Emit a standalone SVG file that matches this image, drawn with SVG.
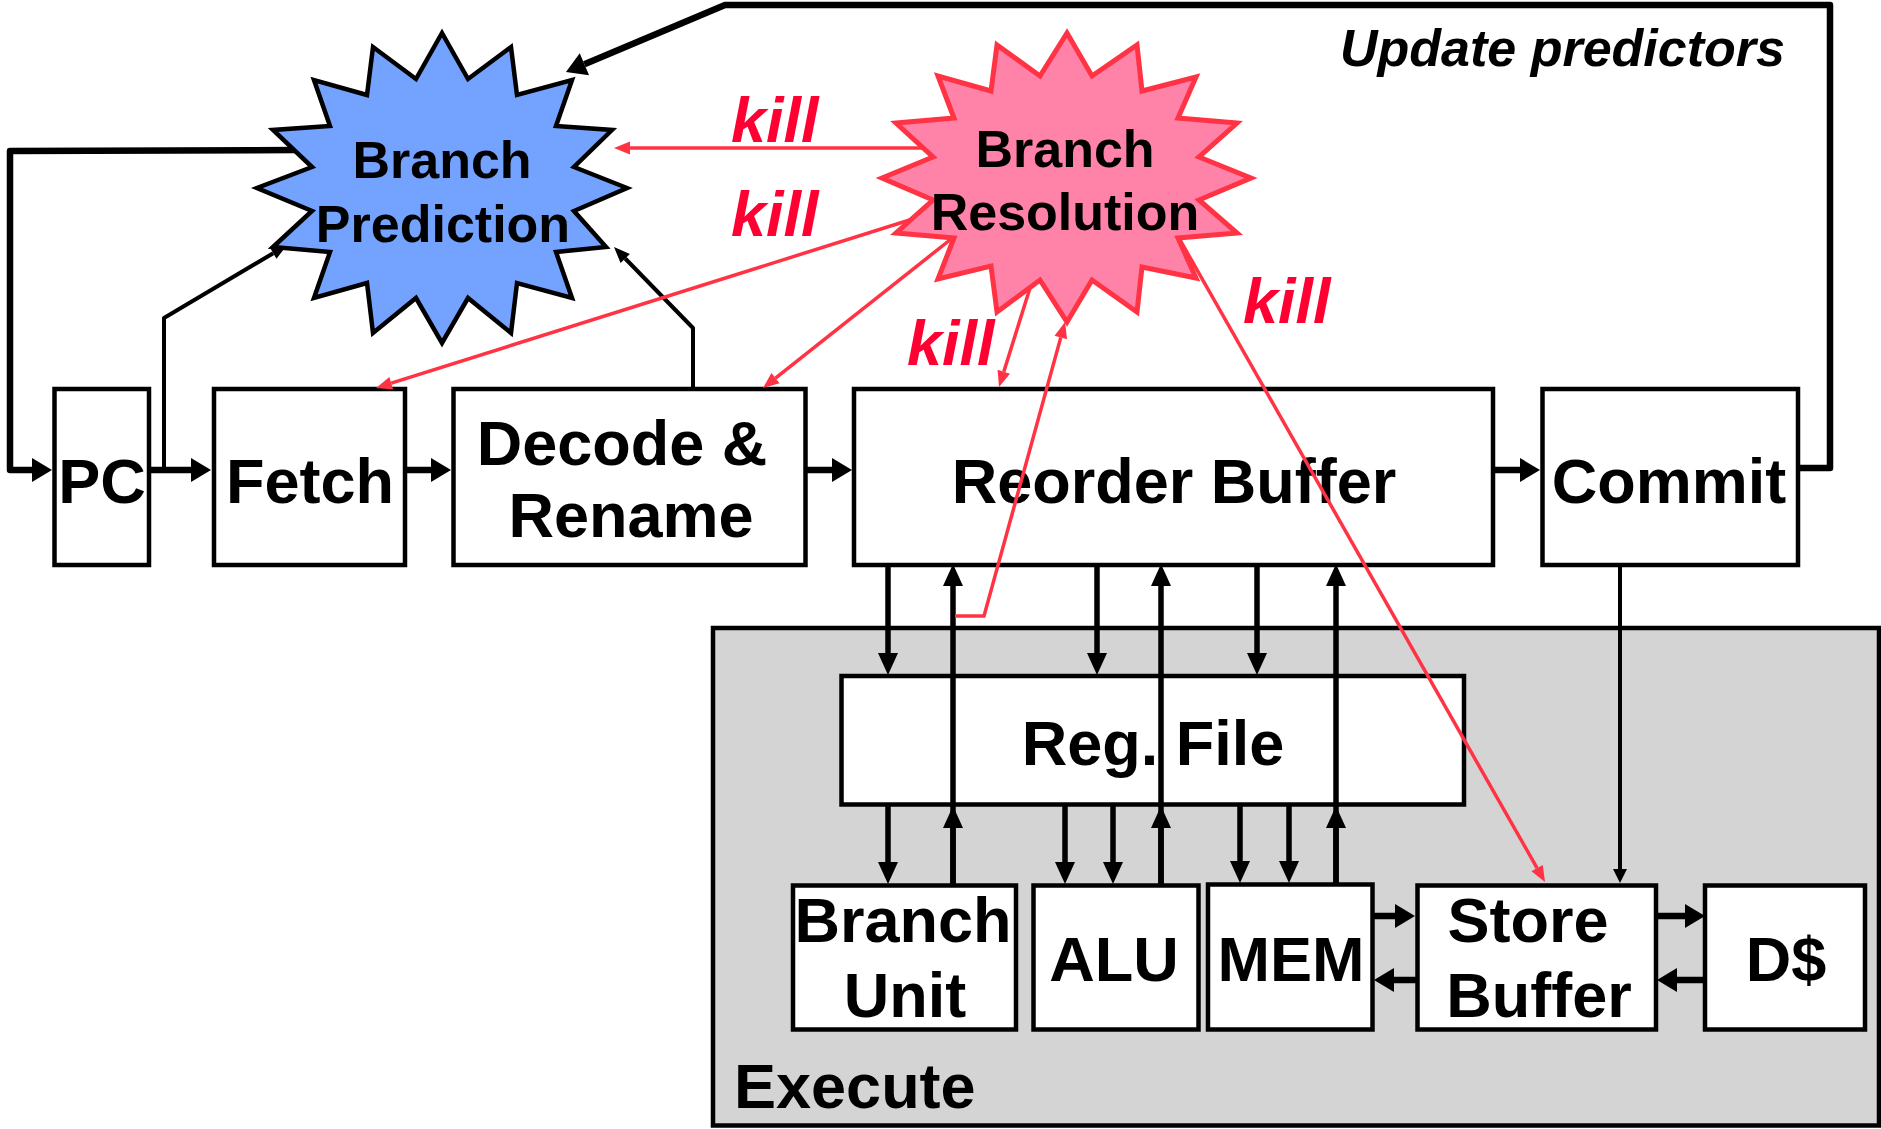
<svg xmlns="http://www.w3.org/2000/svg" width="1881" height="1129" viewBox="0 0 1881 1129">
<style>
.box{fill:#ffffff;stroke:#000;stroke-width:4.5}
.exe{fill:#d4d4d4;stroke:#000;stroke-width:4.5}
.t{font-family:"Liberation Sans",Arial,sans-serif;font-weight:bold;font-size:63px;fill:#000}
.ts{font-family:"Liberation Sans",Arial,sans-serif;font-weight:bold;font-size:52px;fill:#000}
.kill{font-family:"Liberation Sans",Arial,sans-serif;font-weight:bold;font-style:italic;font-size:63px;fill:#ff0033}
.upd{font-family:"Liberation Sans",Arial,sans-serif;font-weight:bold;font-style:italic;font-size:52px;fill:#000}
.thick{fill:none;stroke:#000;stroke-width:6.5;stroke-linejoin:round}
.med{fill:none;stroke:#000;stroke-width:5.5}
.thin{fill:none;stroke:#000;stroke-width:4;stroke-linejoin:round}
.red{fill:none;stroke:#ff3344;stroke-width:3.5;stroke-linejoin:miter}
</style>
<defs>
<marker id="mBig" markerUnits="userSpaceOnUse" markerWidth="20" markerHeight="24" refX="0" refY="12" orient="auto" overflow="visible"><path d="M0,0 L20,12 L0,24 z" fill="#000"/></marker>
<marker id="mMed" markerUnits="userSpaceOnUse" markerWidth="22" markerHeight="20" refX="0" refY="10" orient="auto" overflow="visible"><path d="M0,0 L22,10 L0,20 z" fill="#000"/></marker>
<marker id="mThin" markerUnits="userSpaceOnUse" markerWidth="16" markerHeight="13" refX="0" refY="6.5" orient="auto" overflow="visible"><path d="M0,0 L16,6.5 L0,13 z" fill="#000"/></marker>
<marker id="mSmall" markerUnits="userSpaceOnUse" markerWidth="14" markerHeight="14" refX="0" refY="7" orient="auto" overflow="visible"><path d="M0,0 L14,7 L0,14 z" fill="#000"/></marker>
<marker id="mRed" markerUnits="userSpaceOnUse" markerWidth="16" markerHeight="13" refX="0" refY="6.5" orient="auto" overflow="visible"><path d="M0,0 L16,6.5 L0,13 z" fill="#ff3344"/></marker>
</defs>

<g id="execute">
<rect class="exe" x="713" y="628" width="1166" height="497.5"/>
<text class="t" x="734" y="1108">Execute</text>
</g>

<g id="pc"><rect class="box" x="54.5" y="389" width="94.5" height="176"/><text class="t" x="102" y="503" text-anchor="middle">PC</text></g>
<g id="fetch"><rect class="box" x="214" y="389" width="191" height="176"/><text class="t" x="310" y="503" text-anchor="middle">Fetch</text></g>
<g id="decode"><rect class="box" x="453.5" y="389" width="352" height="176"/><text class="t" x="622" y="465" text-anchor="middle">Decode &amp;</text><text class="t" x="631" y="537" text-anchor="middle">Rename</text></g>
<g id="rob"><rect class="box" x="854" y="389" width="639" height="176"/><text class="t" x="1174" y="503" text-anchor="middle">Reorder Buffer</text></g>
<g id="commit"><rect class="box" x="1542.5" y="389" width="255.5" height="176"/><text class="t" x="1669" y="503" text-anchor="middle">Commit</text></g>
<g id="regfile"><rect class="box" x="841.5" y="676" width="622.5" height="128.5"/><text class="t" x="1153" y="765" text-anchor="middle">Reg. File</text></g>
<g id="branchunit"><rect class="box" x="793" y="885.5" width="223" height="144"/><text class="t" x="903" y="942" text-anchor="middle">Branch</text><text class="t" x="905" y="1017" text-anchor="middle">Unit</text></g>
<g id="alu"><rect class="box" x="1033.5" y="885.5" width="165" height="144"/><text class="t" x="1114" y="981" text-anchor="middle">ALU</text></g>
<g id="mem"><rect class="box" x="1208" y="884.5" width="164.5" height="145"/><text class="t" x="1291" y="981" text-anchor="middle">MEM</text></g>
<g id="storebuffer"><rect class="box" x="1417.5" y="885.5" width="238.5" height="144"/><text class="t" x="1528" y="942" text-anchor="middle">Store</text><text class="t" x="1539" y="1017" text-anchor="middle">Buffer</text></g>
<g id="dcache"><rect class="box" x="1705" y="885.5" width="160" height="144"/><text class="t" x="1786" y="981" text-anchor="middle">D$</text></g>

<g id="connectors">
<path class="thick" d="M296,150 L10,151 L10,470 L32,470" marker-end="url(#mBig)"/>
<path class="thick" d="M149,470 L191,470" marker-end="url(#mBig)"/>
<path class="thin" d="M164,470 L164,318 L273.2,253.2" marker-end="url(#mThin)"/>
<path class="thick" d="M405,470 L431,470" marker-end="url(#mBig)"/>
<path class="thick" d="M805,470 L832,470" marker-end="url(#mBig)"/>
<path class="thick" d="M1493,470 L1520,470" marker-end="url(#mBig)"/>
<path class="thin" d="M693,389 L693,328 L625.2,258.5" marker-end="url(#mThin)"/>
<path class="thick" d="M1798,468 L1830,468 L1830,5 L725,5 L584.4,64.2" marker-end="url(#mBig)"/>
<path class="thin" d="M1620,565 L1620,869" marker-end="url(#mSmall)"/>

<path class="med" d="M888,565 L888,653" marker-end="url(#mMed)"/>
<path class="med" d="M888,805 L888,862" marker-end="url(#mMed)"/>
<path class="med" d="M953,885 L953,586" marker-end="url(#mMed)"/>
<path class="med" d="M953,885 L953,828" marker-end="url(#mMed)"/>
<path class="med" d="M1097,565 L1097,653" marker-end="url(#mMed)"/>
<path class="med" d="M1065,805 L1065,862" marker-end="url(#mMed)"/>
<path class="med" d="M1113,805 L1113,862" marker-end="url(#mMed)"/>
<path class="med" d="M1161,885 L1161,586" marker-end="url(#mMed)"/>
<path class="med" d="M1161,885 L1161,828" marker-end="url(#mMed)"/>
<path class="med" d="M1257,565 L1257,653" marker-end="url(#mMed)"/>
<path class="med" d="M1240,805 L1240,861" marker-end="url(#mMed)"/>
<path class="med" d="M1289,805 L1289,861" marker-end="url(#mMed)"/>
<path class="med" d="M1336,884 L1336,586" marker-end="url(#mMed)"/>
<path class="med" d="M1336,884 L1336,828" marker-end="url(#mMed)"/>

<path class="thick" d="M1372,916 L1395,916" marker-end="url(#mBig)"/>
<path class="thick" d="M1417,980 L1394,980" marker-end="url(#mBig)"/>
<path class="thick" d="M1656,916 L1685,916" marker-end="url(#mBig)"/>
<path class="thick" d="M1705,980 L1677,980" marker-end="url(#mBig)"/>

<path class="red" d="M940,148 L630,148" marker-end="url(#mRed)"/>
<path class="red" d="M935,212 L391.3,383.2" marker-end="url(#mRed)"/>
<path class="red" d="M960,232 L775.5,378.1" marker-end="url(#mRed)"/>
<path class="red" d="M1030,288 L1003.8,371.7" marker-end="url(#mRed)"/>
<path class="red" d="M955,616 L984,616 L1060.8,337.4" marker-end="url(#mRed)"/>
<path class="red" d="M1175.6,232.2 L1537.1,868.1" marker-end="url(#mRed)"/>
</g>

<g id="branchprediction">
<polygon fill="#74a3ff" stroke="#000" stroke-width="4.5" stroke-linejoin="miter" points="442,33 468,79 511,47 517,95 572,80 556,126 612,130 574,167 627,188 574,211 606,247 556,252 572,298 517,283 511,333 468,298 442,343 416,298 373,333 367,283 314,298 330,252 273,247 312,211 257,188 312,167 273,130 330,126 314,80 367,95 373,47 416,79"/>
<text class="ts" x="442" y="178" text-anchor="middle">Branch</text>
<text class="ts" x="443" y="242" text-anchor="middle">Prediction</text>
</g>

<g id="branchresolution">
<polygon fill="#ff82a9" stroke="#ff3344" stroke-width="5" stroke-linejoin="miter" points="1067,33 1092,76 1137,45 1142,91 1196,77 1178,118 1237,123 1199,157 1251,178 1199,200 1237,233 1178,238 1196,278 1142,267 1137,312 1092,280 1067,322 1040,280 997,312 991,266 938,279 954,238 896,233 933,200 882,178 933,157 896,123 954,118 938,76 991,91 997,45 1040,76"/>
<text class="ts" x="1065" y="167" text-anchor="middle">Branch</text>
<text class="ts" x="1065" y="230" text-anchor="middle">Resolution</text>
</g>

<g id="labels">
<text class="upd" x="1340" y="66">Update predictors</text>
<text class="kill" x="731" y="142">kill</text>
<text class="kill" x="731" y="236">kill</text>
<text class="kill" x="907" y="365">kill</text>
<text class="kill" x="1243" y="323">kill</text>
</g>
</svg>
